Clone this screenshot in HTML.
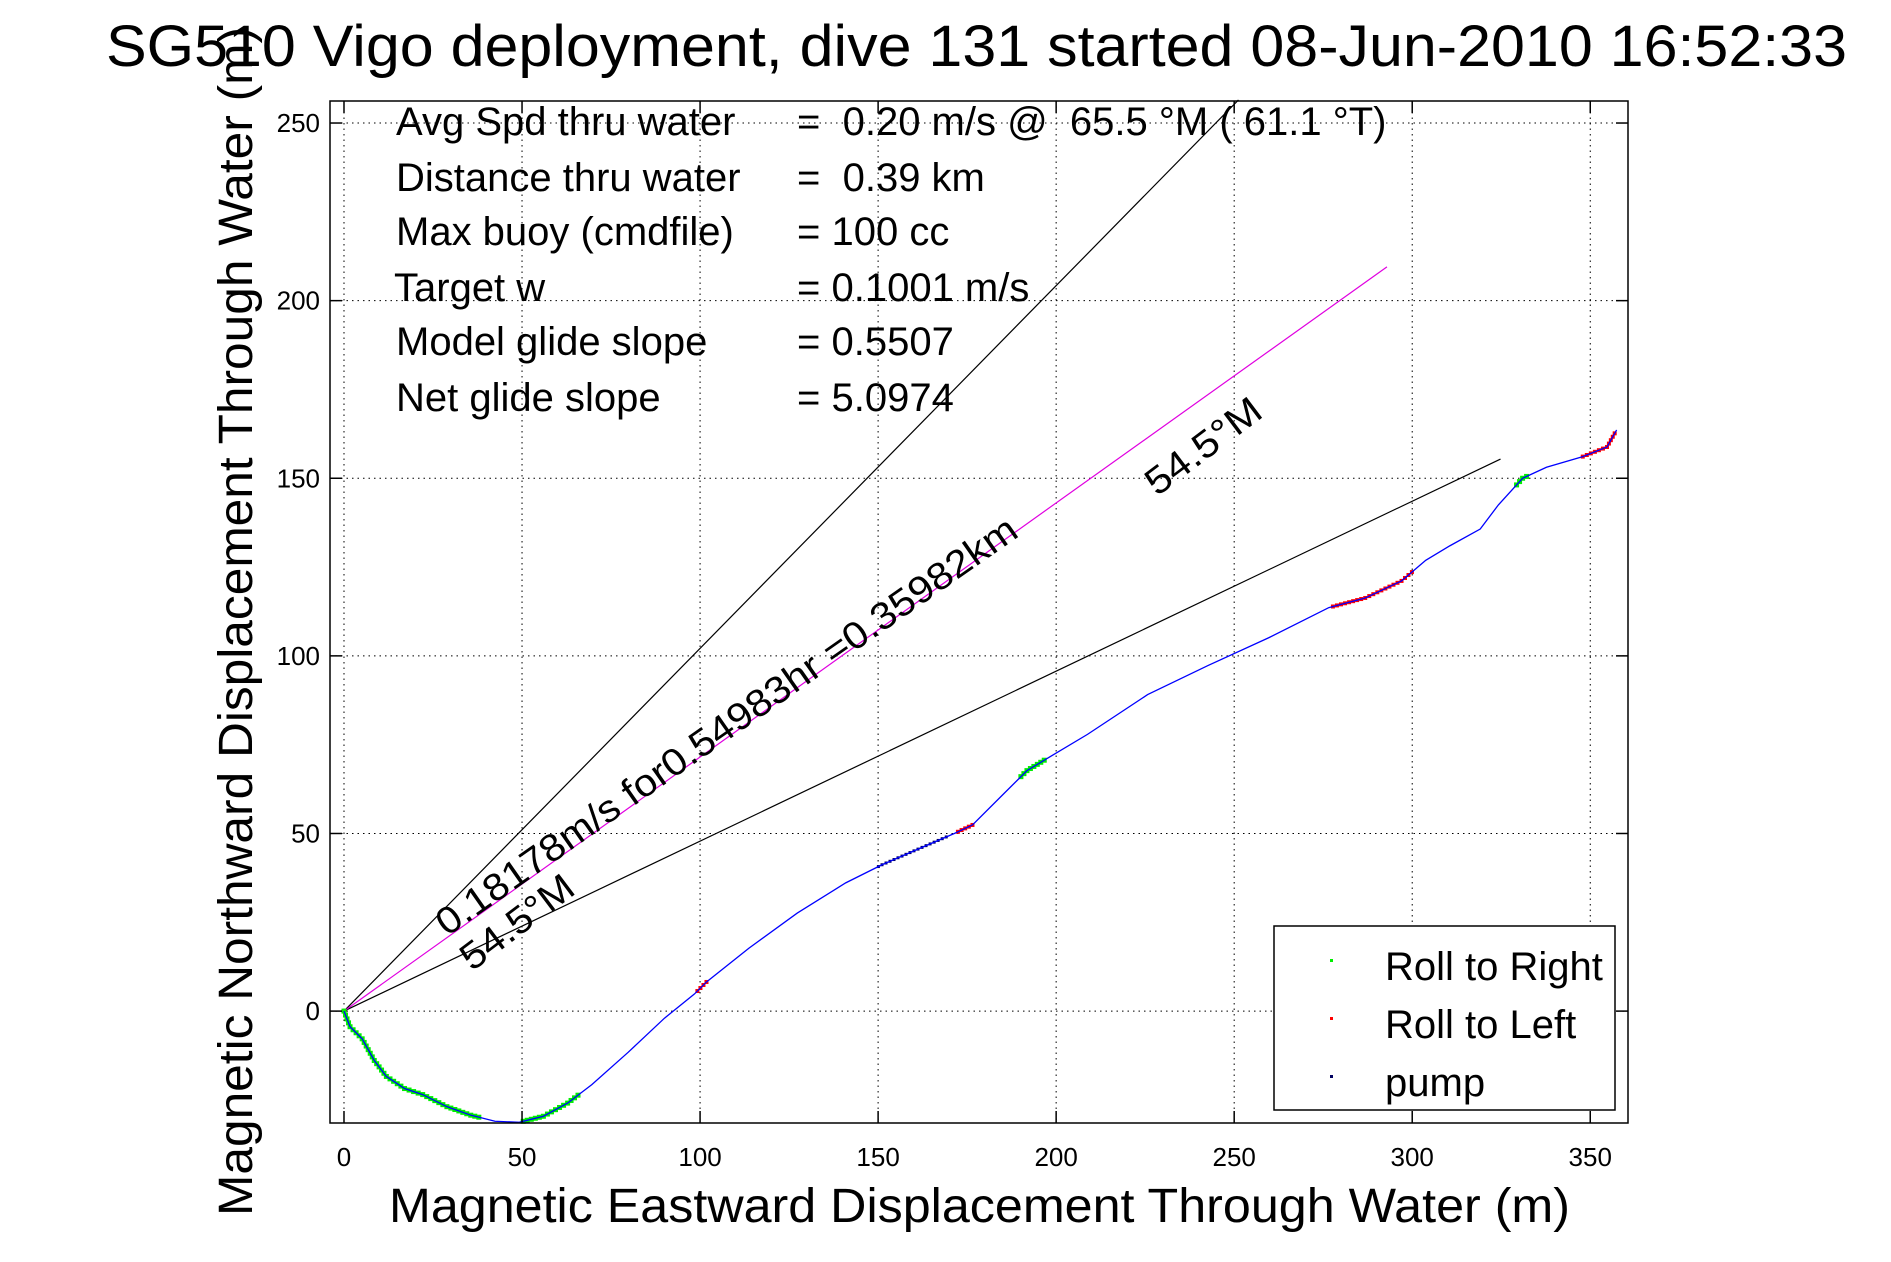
<!DOCTYPE html>
<html><head><meta charset="utf-8"><style>
html,body{margin:0;padding:0;background:#fff;}
svg{display:block;font-family:"Liberation Sans",Arial,sans-serif;}
</style></head><body>
<svg id="chart" width="1891" height="1262" viewBox="0 0 1891 1262" xmlns="http://www.w3.org/2000/svg">
<rect width="1891" height="1262" fill="#fff"/>
<g id="grid"></g>
<g id="lines"></g>
<g id="track"></g>
<g id="axes"></g>
<text x="106" y="66" font-size="58" textLength="1741" lengthAdjust="spacingAndGlyphs">SG510 Vigo deployment, dive 131 started 08-Jun-2010 16:52:33</text>
<text x="389" y="1222" font-size="48" textLength="1181" lengthAdjust="spacingAndGlyphs">Magnetic Eastward Displacement Through Water (m)</text>
<text transform="translate(252,1216) rotate(-90)" font-size="48" textLength="1189" lengthAdjust="spacingAndGlyphs">Magnetic Northward Displacement Through Water (m)</text>
<g font-size="40" style="white-space:pre">
<text x="396" y="135">Avg Spd thru water</text><text x="797" y="135" xml:space="preserve">=  0.20 m/s @  65.5 °M ( 61.1 °T)</text>
<text x="396" y="191">Distance thru water</text><text x="797" y="191" xml:space="preserve">=  0.39 km</text>
<text x="396" y="245">Max buoy (cmdfile)</text><text x="797" y="245">= 100 cc</text>
<text x="394" y="301">Target w</text><text x="797" y="301">= 0.1001 m/s</text>
<text x="396" y="355">Model glide slope</text><text x="797" y="355">= 0.5507</text>
<text x="396" y="411">Net glide slope</text><text x="797" y="411">= 5.0974</text>
</g>
<text transform="translate(447,937) rotate(-35)" font-size="38" textLength="700" lengthAdjust="spacingAndGlyphs">0.18178m/s for0.54983hr =0.35982km</text>
<text transform="translate(1157,497) rotate(-37)" font-size="38" textLength="135" lengthAdjust="spacingAndGlyphs">54.5°M</text>
<text transform="translate(472,972) rotate(-37)" font-size="38" textLength="132" lengthAdjust="spacingAndGlyphs">54.5°M</text>
<g>
<rect x="1274" y="926" width="341" height="184" fill="#fff" stroke="#000" stroke-width="1.5"/>
<rect x="1330" y="959" width="3" height="3" fill="#00ee00"/>
<text x="1385" y="980" font-size="40">Roll to Right</text>
<rect x="1330" y="1017" width="3" height="3" fill="#ff0000"/>
<text x="1385" y="1038" font-size="40">Roll to Left</text>
<rect x="1330" y="1075" width="3" height="3" fill="#000060"/>
<text x="1385" y="1096" font-size="40">pump</text>
</g>
</svg>
<script>
const xTicks=[0,50,100,150,200,250,300,350];
const yTicks=[0,50,100,150,200,250];
const trackX=[0,1.7,5.1,8.5,11.9,17,22.1,28.9,35.6,42.4,49.2,56,62.8,69.6,79.8,90,98.4,101.8,113.7,127.3,140.9,151.1,161.2,171.4,176.5,185,191.8,198.6,208.8,225.7,242.7,259.7,276.6,286.8,297,303.8,310.6,319.1,324.2,331,337.7,347.9,354.7,357.4];
const trackY=[0,-4.4,-7.8,-13.9,-18.4,-21.8,-23.5,-26.9,-29.3,-31,-31.3,-29.6,-25.9,-20.7,-11.6,-2,4.8,8.2,17.7,27.6,36.1,41.2,45.6,50,52.4,60.9,67.7,71.8,77.9,89.1,97.3,105.1,113.6,116.3,121.1,126.9,131,135.7,142.5,150,153.1,156.1,158.8,163.6];
const greenRanges=[[0,38],[50,66],[190,197],[329,333]];
const redRanges=[[99,102],[172,177],[277,300],[347,357]];
const pumpRanges=[[150,170]];
const refLineEndX=[251.2,324.8,292.9];
const refLineEndY=[256.5,155.4,209.5];
const refLineColor=['#000','#000','#e000e0'];

const X0=-3.93,X1=360.6,Y0=-31.5,Y1=256.2;
const L=330,R=1628,T=101,B=1123;
const sx=v=>L+(v-X0)/(X1-X0)*(R-L);
const sy=v=>B-(v-Y0)/(Y1-Y0)*(B-T);
const NS='http://www.w3.org/2000/svg';
function mk(tag,attrs,parent){const e=document.createElementNS(NS,tag);for(const k in attrs)e.setAttribute(k,attrs[k]);parent.appendChild(e);return e;}
const grid=document.getElementById('grid'),axes=document.getElementById('axes'),lines=document.getElementById('lines'),track=document.getElementById('track');

xTicks.forEach(t=>{
  const x=sx(t);
  const g=mk('line',{x1:x,x2:x,y1:T,y2:B,stroke:'#000','stroke-width':1,'stroke-dasharray':'1.5 4'},grid);
  
  
  mk('line',{x1:x,x2:x,y1:B,y2:B-12,stroke:'#000','stroke-width':1.5},axes);
  mk('line',{x1:x,x2:x,y1:T,y2:T+12,stroke:'#000','stroke-width':1.5},axes);
  const lb=mk('text',{x:x,y:1166,'font-size':26,'text-anchor':'middle'},axes);
  lb.textContent=t;
  
  
});
yTicks.forEach(t=>{
  const y=sy(t);
  const g=mk('line',{x1:L,x2:R,y1:y,y2:y,stroke:'#000','stroke-width':1,'stroke-dasharray':'1.5 4'},grid);
  
  
  mk('line',{x1:L,x2:L+12,y1:y,y2:y,stroke:'#000','stroke-width':1.5},axes);
  mk('line',{x1:R,x2:R-12,y1:y,y2:y,stroke:'#000','stroke-width':1.5},axes);
  const lb=mk('text',{x:320,y:y+9,'font-size':26,'text-anchor':'end'},axes);
  lb.textContent=t;
  
  
});
const frame=mk('rect',{x:L,y:T,width:R-L,height:B-T,fill:'none',stroke:'#000','stroke-width':1.5},axes);



refLineEndX.forEach((ex,i)=>{
  const ln=mk('line',{x1:sx(0),y1:sy(0),x2:sx(ex),y2:sy(refLineEndY[i]),stroke:refLineColor[i],'stroke-width':1.2},lines);
  
  
});

// densify track for coloured markers
const dense=[];
for(let i=0;i<trackX.length-1;i++){
  const n=Math.max(2,Math.round(Math.hypot(trackX[i+1]-trackX[i],trackY[i+1]-trackY[i])/1.2));
  for(let k=0;k<n;k++){const f=k/n;dense.push([trackX[i]+f*(trackX[i+1]-trackX[i]),trackY[i]+f*(trackY[i+1]-trackY[i])]);}
}
dense.push([trackX[trackX.length-1],trackY[trackY.length-1]]);
function drawRanges(ranges,color,name,size){
  ranges.forEach(r=>{
    dense.filter(p=>p[0]>=r[0]&&p[0]<=r[1]).forEach(p=>{
      const m=mk('rect',{x:sx(p[0])-size/2,y:sy(p[1])-size/2,width:size,height:size,fill:color},track);
      
      
    });
  });
}
drawRanges(greenRanges,'#00ee00','roll-right-marker',5);
drawRanges(redRanges,'#ff0000','roll-left-marker',4);
drawRanges(pumpRanges,'#000060','pump-marker',3);
const path=mk('polyline',{points:trackX.map((x,i)=>sx(x)+','+sy(trackY[i])).join(' '),fill:'none',stroke:'#0000ff','stroke-width':1.3},track);


</script>
</body></html>
